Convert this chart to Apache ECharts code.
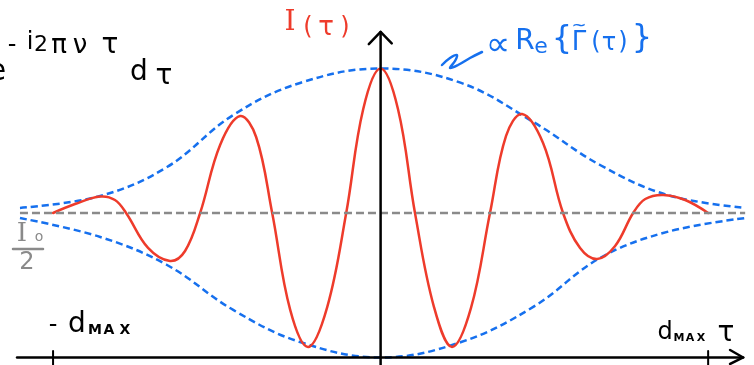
<!DOCTYPE html>
<html>
<head>
<meta charset="utf-8">
<script src="https://cdn.jsdelivr.net/npm/echarts/dist/echarts.min.js"></script>
<style>
  html, body { margin: 0; padding: 0; background: #ffffff; }
  #chart { width: 754px; height: 365px; }
</style>
</head>
<body>
<div id="chart"></div>
<script>
// Interferogram I(τ): τ in units of d_MAX, intensity in units of I0/2.
// Turning points, crossings of the I0/2 level and points half-way between them.
const tau = [
  -1.000, -0.933, -0.856, -0.811, -0.777, -0.710, -0.643, -0.597, -0.551, -0.490,
  -0.429, -0.380, -0.331, -0.276, -0.221, -0.163, -0.105, -0.053, 0.000,
  0.053, 0.105, 0.163, 0.218, 0.276, 0.334, 0.383, 0.432, 0.496, 0.557,
  0.609, 0.661, 0.716, 0.771, 0.808, 0.863, 0.930, 1.000
];
const intensity = [
  1.000, 1.062, 1.114, 1.090, 1.000, 0.758, 0.668, 0.737, 1.000, 1.471,
  1.671, 1.526, 1.000, 0.329, 0.073, 0.349, 1.000, 1.720, 2.000,
  1.720, 1.000, 0.349, 0.073, 0.343, 1.000, 1.533, 1.685, 1.484, 1.000,
  0.758, 0.682, 0.772, 1.000, 1.097, 1.125, 1.090, 1.000
];

// Envelope ∝ Re{Γ̃(τ)} around the I0/2 level.
const envTau = [-1.101, -0.856, -0.652, -0.450, -0.246, 0.000, 0.246, 0.466, 0.670, 0.875, 1.113];
const envUpper = [1.035, 1.118, 1.318, 1.678, 1.900, 2.000, 1.900, 1.630, 1.332, 1.125, 1.035];
const envLower = [0.965, 0.834, 0.640, 0.329, 0.107, 0.000, 0.107, 0.350, 0.689, 0.869, 0.965];

// Half-intensity level I0/2 and the τ-range of the dashed reference line.
const halfLevel = 1;
const halfLineTau = [-1.101, 1.113];

// Axis ticks at ±d_MAX.
const tickTau = [-1, 1];

const RED = '#ee3b2b';
const BLUE = '#1670ee';
const GREY = '#8a8a8a';
const INK = '#000000';

const zip = (xs, ys) => xs.map((x, i) => [x, ys[i]]);

const plain = (data, color, width, extra) => Object.assign({
  type: 'line',
  data: data,
  symbol: 'none',
  clip: false,
  silent: true,
  animation: false,
  lineStyle: { color: color, width: width, cap: 'round', join: 'round' }
}, extra || {});

// A curve through the given points, placed with the cartesian scales and
// drawn as one spline-smoothed polyline.
function curve(xs, ys, color, dash) {
  return {
    type: 'custom',
    coordinateSystem: 'cartesian2d',
    silent: true,
    animation: false,
    clip: false,
    data: [[xs[0], ys[0]]],
    renderItem: function (params, api) {
      const pts = xs.map((x, i) => api.coord([x, ys[i]]));
      return {
        type: 'polyline',
        shape: { points: pts, smooth: 0.38 },
        style: {
          stroke: color, lineWidth: 2.5, fill: null,
          lineDash: dash || null, lineCap: dash ? 'butt' : 'round', lineJoin: 'round'
        }
      };
    }
  };
}

// Hand-lettered annotations, one glyph at a time.
function glyphs(list, color) {
  return list.map(g => ({
    type: 'text',
    x: g[1], y: g[2],
    silent: true,
    style: {
      text: g[0],
      font: g[3],
      fill: color,
      align: 'center', verticalAlign: 'middle',
      textAlign: 'center', textVerticalAlign: 'middle'
    }
  }));
}

const SANS = '"DejaVu Sans", sans-serif';
const SERIF = '"DejaVu Serif", serif';

const chart = echarts.init(document.getElementById('chart'), null, { renderer: 'canvas' });

const series = [
  plain(halfLineTau.map(t => [t, halfLevel]), GREY, 2.5,
    { lineStyle: { color: GREY, width: 2.5, type: [8, 4] } }),
  curve(envTau, envUpper, BLUE, [7, 4]),
  curve(envTau, envLower, BLUE, [7, 4]),
  curve(tau, intensity, RED),
  // τ axis with open arrow head
  plain([[-1.110, 0], [1.107, 0]], INK, 2.5),
  plain([[1.067, 0.052], [1.107, 0], [1.067, -0.045]], INK, 2.5),
  // I axis with open arrow head
  plain([[0, -0.06], [0, 2.253]], INK, 2.5),
  plain([[-0.036, 2.168], [0, 2.253], [0.034, 2.174]], INK, 2.5)
];
tickTau.forEach(t => series.push(plain([[t, 0.045], [t, -0.06]], INK, 2)));

const graphic = [].concat(
  // I(τ)
  glyphs([
    ['I', 290, 23, '28px ' + SERIF],
    ['(', 308, 28, '24px ' + SANS],
    ['τ', 326, 28, '26px ' + SANS],
    [')', 345, 28, '24px ' + SANS]
  ], RED),
  // ∝ Re{Γ̃(τ)}
  glyphs([
    ['∝', 498, 46, '34px ' + SANS],
    ['R', 525, 42, '28px ' + SANS],
    ['e', 541, 47, '22px ' + SANS],
    ['{', 562, 40, '32px ' + SANS],
    ['Γ', 579, 43, '26px ' + SANS],
    ['~', 579, 26, '18px ' + SANS],
    ['(', 596, 43, '24px ' + SANS],
    ['τ', 609, 44, '24px ' + SANS],
    [')', 623, 43, '24px ' + SANS],
    ['}', 642, 39, '32px ' + SANS]
  ], BLUE),
  [{
    type: 'polyline',
    silent: true,
    shape: {
      points: [[442, 65], [450, 58], [457, 55], [455, 61], [450, 68], [458, 65], [470, 58], [482, 52]],
      smooth: 0.4
    },
    style: { stroke: BLUE, lineWidth: 2.5, fill: null, lineCap: 'round', lineJoin: 'round' }
  }],
  // e^{-i2πντ} dτ
  glyphs([
    ['e', -3, 72, '30px ' + SANS],
    ['-', 12, 46, '24px ' + SANS],
    ['i', 30, 43, '24px ' + SANS],
    ['2', 41, 45, '22px ' + SANS],
    ['π', 59, 46, '26px ' + SANS],
    ['ν', 80, 46, '26px ' + SANS],
    ['τ', 110, 46, '28px ' + SANS],
    ['d', 139, 73, '28px ' + SANS],
    ['τ', 164, 77, '28px ' + SANS]
  ], INK),
  // I0 / 2
  glyphs([
    ['I', 22, 234, '26px ' + SERIF],
    ['o', 39, 237, '14px ' + SANS],
    ['2', 27, 263, '24px ' + SANS]
  ], GREY),
  [{
    type: 'line',
    silent: true,
    shape: { x1: 13, y1: 249, x2: 43, y2: 249 },
    style: { stroke: GREY, lineWidth: 2.5, lineCap: 'round' }
  }],
  // -d_MAX
  glyphs([
    ['-', 53, 326, '24px ' + SANS],
    ['d', 77, 325, '28px ' + SANS],
    ['M', 95, 330, 'bold 14px ' + SANS],
    ['A', 109, 330, 'bold 14px ' + SANS],
    ['X', 125, 330, 'bold 14px ' + SANS]
  ], INK),
  // d_MAX  τ
  glyphs([
    ['d', 665, 333, '24px ' + SANS],
    ['M', 679, 338, 'bold 11px ' + SANS],
    ['A', 690, 338, 'bold 11px ' + SANS],
    ['X', 701, 338, 'bold 11px ' + SANS],
    ['τ', 726, 334, '28px ' + SANS]
  ], INK)
);

chart.setOption({
  animation: false,
  backgroundColor: '#ffffff',
  grid: { left: 0, right: 0, top: 0, bottom: 0, containLabel: false },
  xAxis: { type: 'value', min: -1.162, max: 1.140, show: false },
  yAxis: { type: 'value', min: -0.052, max: 2.474, show: false },
  series: series,
  graphic: graphic
});
</script>
</body>
</html>
